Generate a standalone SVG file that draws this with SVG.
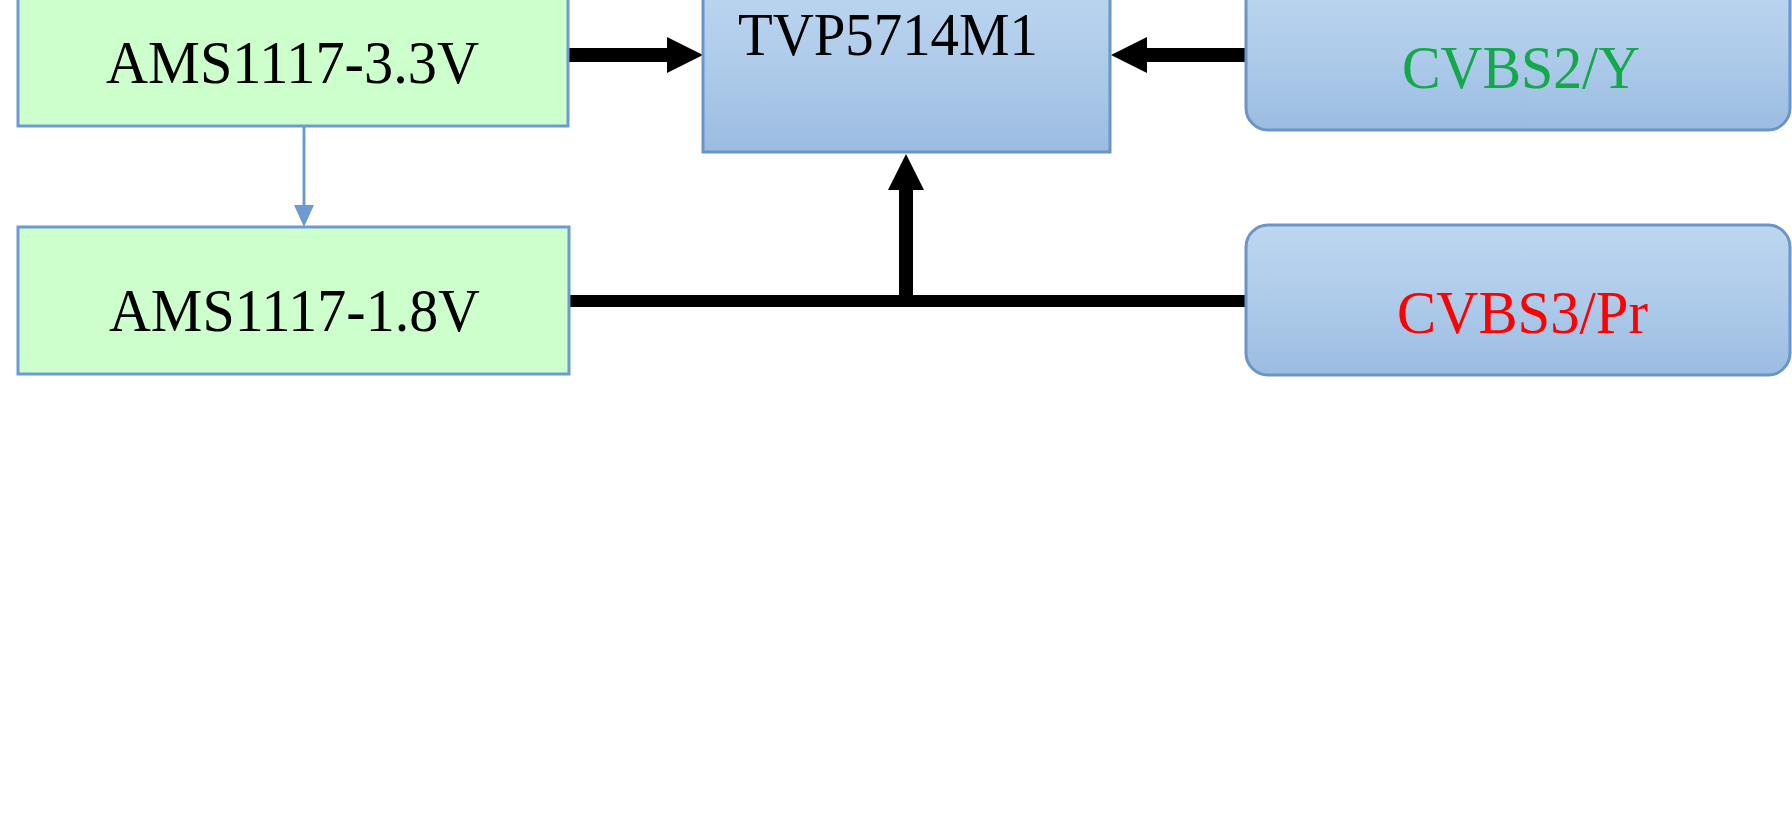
<svg xmlns="http://www.w3.org/2000/svg" width="1792" height="830" viewBox="0 0 1792 830">
  <defs>
    <linearGradient id="blueGrad" x1="0" y1="0" x2="0" y2="1">
      <stop offset="0" stop-color="#bdd7f0"/>
      <stop offset="0.5" stop-color="#aecbea"/>
      <stop offset="1" stop-color="#9bbce1"/>
    </linearGradient>
    <marker id="bigArrow" viewBox="0 0 36 36" markerWidth="36" markerHeight="36" markerUnits="userSpaceOnUse" refX="3" refY="18" orient="auto">
      <path d="M0,0 L36,18 L0,36 z" fill="#000"/>
    </marker>
    <marker id="smallArrow" viewBox="0 0 22 20" markerWidth="22" markerHeight="20" markerUnits="userSpaceOnUse" refX="2" refY="10" orient="auto">
      <path d="M0,0 L22,10 L0,20 z" fill="#6d9ad0"/>
    </marker>
  </defs>
  <style>
    .green { fill: #ccffcc; stroke: #6d9ad0; stroke-width: 3; }
    .blue { fill: url(#blueGrad); stroke: #6b95c6; stroke-width: 3; }
    .lbl { font-family: "Liberation Serif", "Times New Roman", serif; font-size: 61px; fill: #000; }
    .thick { stroke: #000; fill: none; stroke-width: 14; }
    .thin { stroke: #6d9ad0; fill: none; stroke-width: 3; }
  </style>
  <rect x="0" y="0" width="1792" height="830" fill="#ffffff"/>

  <g id="connectors">
    <path class="thick" d="M568,55 H670" marker-end="url(#bigArrow)"/>
    <path class="thick" d="M1246,55 H1144" marker-end="url(#bigArrow)"/>
    <path class="thick" d="M570,301 H1246" style="stroke-width:12"/>
    <path class="thick" d="M906,307 V187" marker-end="url(#bigArrow)"/>
    <path class="thin" d="M304,126 V207" marker-end="url(#smallArrow)"/>
  </g>

  <g id="ams33">
    <rect class="green" x="18" y="-22" width="550" height="148"/>
    <text class="lbl" x="106" y="83" textLength="373" lengthAdjust="spacingAndGlyphs">AMS1117-3.3V</text>
  </g>

  <g id="ams18">
    <rect class="green" x="18" y="227" width="551" height="147"/>
    <text class="lbl" x="109" y="331" textLength="371" lengthAdjust="spacingAndGlyphs">AMS1117-1.8V</text>
  </g>

  <g id="tvp">
    <rect class="blue" x="703" y="-22" width="407" height="174"/>
    <text class="lbl" x="738" y="55" textLength="300" lengthAdjust="spacingAndGlyphs">TVP5714M1</text>
  </g>

  <g id="cvbs2">
    <rect class="blue" x="1246" y="-22" width="544" height="152" rx="22" ry="22"/>
    <text class="lbl" x="1402" y="88" textLength="238" lengthAdjust="spacingAndGlyphs" style="fill:#13a84a">CVBS2/Y</text>
  </g>

  <g id="cvbs3">
    <rect class="blue" x="1246" y="225" width="544" height="150" rx="22" ry="22"/>
    <text class="lbl" x="1397" y="333" textLength="251" lengthAdjust="spacingAndGlyphs" style="fill:#ff0000">CVBS3/Pr</text>
  </g>
</svg>
